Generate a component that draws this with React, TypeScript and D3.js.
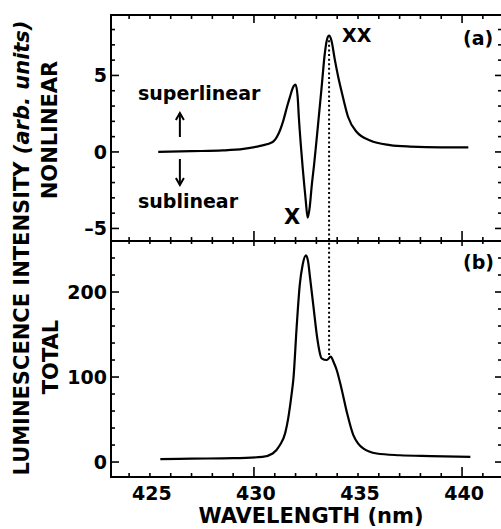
import React from "react";
import * as d3 from "d3";

// Panel (a): nonlinear part of the luminescence spectrum
const wavelengthA = [
  425.4, 427.0, 428.5, 429.5, 430.3, 430.9, 431.15, 431.4, 431.6, 431.73, 431.87, 432.0,
  432.1, 432.16, 432.25, 432.34, 432.42, 432.49, 432.58, 432.68, 432.77, 432.9, 433.01,
  433.13, 433.25, 433.41, 433.52, 433.61, 433.72, 433.89, 434.05, 434.22, 434.52, 434.94,
  435.58, 436.54, 437.5, 439.0, 440.3,
];
const nonlinear = [
  0.0, 0.05, 0.1, 0.2, 0.4, 0.65, 1.1, 2.0, 3.0, 3.6, 4.2, 4.4,
  3.6, 2.2, 0.5, -1.0, -2.2, -3.2, -4.3, -3.6, -2.3, -0.7, 0.8,
  2.5, 4.2, 6.5, 7.4, 7.6, 7.3, 6.0, 4.9, 3.9, 2.3, 1.3,
  0.75, 0.45, 0.35, 0.3, 0.3,
];

// Panel (b): total luminescence spectrum
const wavelengthB = [
  425.5, 427.0, 429.0, 430.4, 430.9, 431.25, 431.5, 431.65, 431.8, 431.9, 432.05, 432.2,
  432.34, 432.5, 432.6, 432.7, 432.85, 433.04, 433.15, 433.25, 433.5, 433.69, 433.82,
  433.98, 434.2, 434.46, 434.77, 435.0, 435.25, 435.9, 437.0, 438.5, 440.4,
];
const total = [
  3.5, 4, 4.5, 6, 10, 20, 34, 52, 78, 99, 158, 208,
  232, 243, 236, 216, 185, 146, 130, 122, 120, 124, 118,
  108, 87, 59, 32, 22, 16, 10, 8, 7, 6,
];

const xTickLabels = [425, 430, 435, 440];
const yTickLabelsA = [-5, 0, 5];
const yTickLabelsB = [0, 100, 200];
const xxWavelength = 433.61;

const W = 501;
const H = 529;
const left = 111;
const right = 502;
const top = 15;
const mid = 241;
const bottom = 477;

const FONT = "'DejaVu Sans', sans-serif";

export default function App() {
  const x = d3.scaleLinear().domain([423.13, 441.92]).range([left, right]);
  const yA = d3.scaleLinear().domain([-5.82, 8.95]).range([mid, top]);
  const yB = d3.scaleLinear().domain([-17.6, 260]).range([bottom, mid]);

  const lineA = d3
    .line<number>()
    .x((_, i) => x(wavelengthA[i]))
    .y((d) => yA(d))
    .curve(d3.curveMonotoneX);
  const lineB = d3
    .line<number>()
    .x((_, i) => x(wavelengthB[i]))
    .y((d) => yB(d))
    .curve(d3.curveMonotoneX);

  const xMinor = d3.range(424, 442, 1);
  const isMajorX = (v: number) => v % 10 === 0;
  const yMinorA = d3.range(-5, 9, 1);
  const yMinorB = d3.range(0, 260, 20);

  const ticks: React.ReactNode[] = [];
  xMinor.forEach((v) => {
    const px = x(v);
    const major = isMajorX(v);
    ticks.push(<line key={`t${v}`} x1={px} x2={px} y1={top} y2={top + (major ? 8 : 4)} />);
    ticks.push(<line key={`m${v}`} x1={px} x2={px} y1={mid - (major ? 10 : 4)} y2={mid + (major ? 5 : 3)} />);
    ticks.push(<line key={`b${v}`} x1={px} x2={px} y1={bottom} y2={bottom - (major ? 10 : 4)} />);
  });
  yMinorA.forEach((v) => {
    const py = yA(v);
    const major = v % 5 === 0;
    ticks.push(<line key={`la${v}`} x1={left} x2={left + (major ? 8 : 4)} y1={py} y2={py} />);
    ticks.push(<line key={`ra${v}`} x1={right} x2={right - (major ? 7 : 4)} y1={py} y2={py} />);
  });
  yMinorB.forEach((v) => {
    const py = yB(v);
    const major = v % 100 === 0;
    ticks.push(<line key={`lb${v}`} x1={left} x2={left + (major ? 8 : 4)} y1={py} y2={py} />);
    ticks.push(<line key={`rb${v}`} x1={right} x2={right - (major ? 7 : 4)} y1={py} y2={py} />);
  });

  const arrowX = x(426.44);

  return (
    <svg
      width={W}
      height={H}
      viewBox={`0 0 ${W} ${H}`}
      style={{ position: "absolute", left: 0, top: 0, background: "#fff" }}
    >
      <rect x={0} y={0} width={W} height={H} fill="#fff" />
      {/* frame */}
      <g stroke="#000" strokeWidth={2} fill="none">
        <rect x={left} y={top} width={right - left} height={bottom - top} />
        <line x1={left} x2={right} y1={mid} y2={mid} />
      </g>
      <g stroke="#000" strokeWidth={1.6}>{ticks}</g>

      {/* dotted marker through the XX peak */}
      <line
        x1={x(xxWavelength)}
        x2={x(xxWavelength)}
        y1={yA(7.3)}
        y2={yB(126)}
        stroke="#000"
        strokeWidth={2}
        strokeDasharray="2 2.6"
      />

      {/* spectra */}
      <path d={lineA(nonlinear) ?? ""} fill="none" stroke="#000" strokeWidth={2.2} />
      <path d={lineB(total) ?? ""} fill="none" stroke="#000" strokeWidth={2.2} />

      {/* arrows */}
      <g stroke="#000" strokeWidth={2} fill="none">
        <line x1={arrowX} x2={arrowX} y1={137} y2={113} />
        <polyline points={`${arrowX - 4},${120} ${arrowX},${113} ${arrowX + 4},${120}`} />
        <line x1={arrowX} x2={arrowX} y1={159} y2={185} />
        <polyline points={`${arrowX - 4},${178} ${arrowX},${185} ${arrowX + 4},${178}`} />
      </g>

      <g fontFamily={FONT} fontWeight="bold" fill="#000">
        {/* y tick labels */}
        {yTickLabelsA.map((v) => (
          <text key={`ya${v}`} x={107} y={yA(v)} dy="0.36em" fontSize={19} textAnchor="end">
            {v < 0 ? `–${Math.abs(v)}` : v}
          </text>
        ))}
        {yTickLabelsB.map((v) => (
          <text key={`yb${v}`} x={107} y={yB(v)} dy="0.36em" fontSize={19} textAnchor="end">
            {v}
          </text>
        ))}
        {/* x tick labels */}
        {xTickLabels.map((v) => (
          <text key={`x${v}`} x={x(v) + 2} y={500} fontSize={19} textAnchor="middle">
            {v}
          </text>
        ))}
        <text x={311} y={523} fontSize={21} textAnchor="middle">
          WAVELENGTH (nm)
        </text>

        {/* y axis titles */}
        <text transform="translate(29,248) rotate(-90)" fontSize={21} textAnchor="middle">
          LUMINESCENCE INTENSITY <tspan fontStyle="italic">(arb. units)</tspan>
        </text>
        <text transform="translate(57,130) rotate(-90)" fontSize={21} textAnchor="middle">
          NONLINEAR
        </text>
        <text transform="translate(58,357) rotate(-90)" fontSize={21} textAnchor="middle">
          TOTAL
        </text>

        {/* annotations */}
        <text x={138} y={100} fontSize={19}>superlinear</text>
        <text x={138} y={208} fontSize={19}>sublinear</text>
        <text x={292} y={224} fontSize={21} textAnchor="middle">X</text>
        <text x={342} y={42} fontSize={19}>XX</text>
        <text x={463} y={45} fontSize={19}>(a)</text>
        <text x={463} y={269} fontSize={19}>(b)</text>
      </g>
    </svg>
  );
}
